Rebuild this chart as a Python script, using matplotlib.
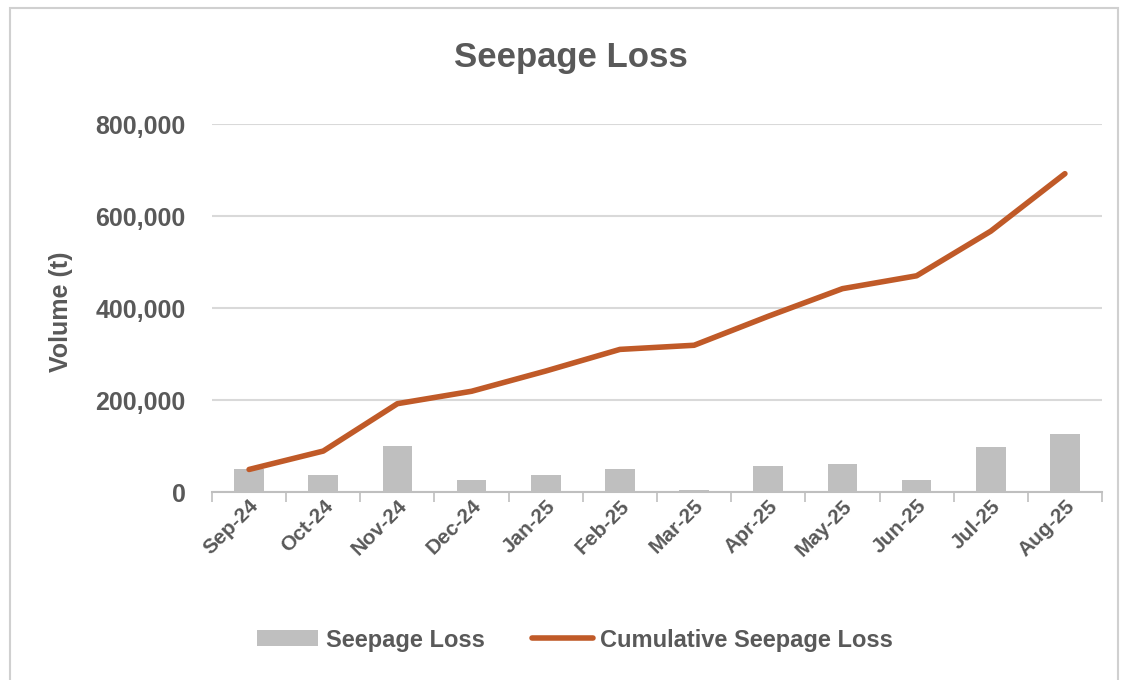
import matplotlib.pyplot as plt
import matplotlib.ticker as mticker
from matplotlib.patches import Rectangle
import numpy as np

months = ['Sep-24', 'Oct-24', 'Nov-24', 'Dec-24', 'Jan-25', 'Feb-25',
          'Mar-25', 'Apr-25', 'May-25', 'Jun-25', 'Jul-25', 'Aug-25']
seepage = [49000, 38000, 100000, 27000, 38000, 50000,
           5000, 57000, 60000, 27000, 97000, 126000]
cumulative = [49000, 89000, 192000, 219000, 263000, 310000,
              319000, 382000, 442000, 470000, 567000, 692000]

TXT = '#595959'
plt.rcParams['font.family'] = ['Liberation Sans', 'DejaVu Sans']

fig = plt.figure(figsize=(11.26, 6.8), dpi=100)
fig.patches.append(Rectangle((10 / 1126, -0.01), 1108 / 1126, 1 - 8 / 680 + 0.01,
                             transform=fig.transFigure, fill=False,
                             edgecolor='#D0D0D0', linewidth=1.5))
ax = fig.add_axes([212 / 1126, 1 - 492 / 680, 890 / 1126, 368 / 680])

x = np.arange(len(months))
bars = ax.bar(x, seepage, width=0.4, color='#BFBFBF', label='Seepage Loss', zorder=2)
line, = ax.plot(x, cumulative, color='#C05A28', linewidth=4, solid_capstyle='round',
                label='Cumulative Seepage Loss', zorder=3)

ax.set_xlim(-0.5, len(months) - 0.5)
ax.set_ylim(0, 800000)
ax.set_yticks(np.arange(0, 800001, 200000))
ax.yaxis.set_major_formatter(mticker.FuncFormatter(lambda v, p: f'{int(v):,}'))
ax.grid(axis='y', color='#D9D9D9', linewidth=1.5, zorder=0)
ax.set_axisbelow(True)

for s in ['top', 'right', 'left']:
    ax.spines[s].set_visible(False)
ax.spines['bottom'].set_color('#BFBFBF')
ax.spines['bottom'].set_linewidth(1.5)
ax.spines['bottom'].set_zorder(1)

ax.set_xticks(x)
ax.set_xticklabels(months, rotation=45, ha='right', rotation_mode='anchor',
                   fontsize=15, fontweight='bold', color=TXT)
ax.tick_params(axis='x', length=0, pad=3)
ax.set_xticks(np.arange(-0.5, len(months)), minor=True)
ax.tick_params(axis='x', which='minor', length=7, width=1.2, color='#BFBFBF')
ax.tick_params(axis='y', length=0, labelsize=18, labelcolor=TXT, pad=19)
for t in ax.get_yticklabels():
    t.set_fontweight('bold')

ax.set_ylabel('Volume (t)', fontsize=18, fontweight='bold', color=TXT)
ax.yaxis.set_label_coords((73 - 212) / 890, 0.49)

fig.text(571 / 1126, 1 - 57 / 680, 'Seepage Loss', ha='center', va='center',
         fontsize=25, fontweight='bold', color=TXT)

leg = fig.legend([bars, line], ['Seepage Loss', 'Cumulative Seepage Loss'],
                 loc='center', bbox_to_anchor=(575 / 1126, 1 - 640 / 680), ncol=2,
                 frameon=False, handlelength=2.6, handleheight=0.65,
                 columnspacing=2.0, handletextpad=0.3,
                 prop={'weight': 'bold', 'size': 17})
for t in leg.get_texts():
    t.set_color(TXT)

fig.savefig('out.png', dpi=100)
